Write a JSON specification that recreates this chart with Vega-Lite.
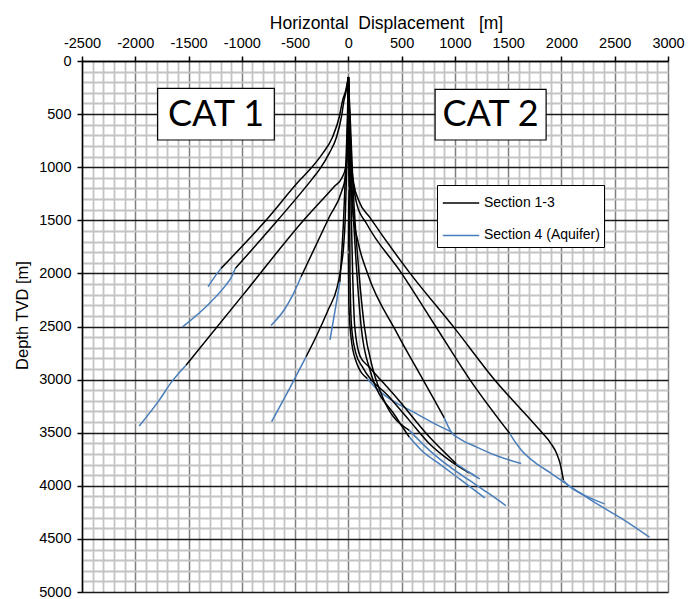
{
  "$schema": "https://vega.github.io/schema/vega-lite/v6.json",
  "width": 586,
  "height": 531,
  "autosize": {"type": "none"},
  "padding": {"left": 82, "top": 61, "right": 20, "bottom": 7},
  "background": "white",
  "config": {"view": {"stroke": null}},
  "datasets": {
    "wells": [
      {"well":"A","section":"Section 1-3","i":0,"x":0,"y":150},
      {"well":"A","section":"Section 1-3","i":1,"x":-25,"y":280},
      {"well":"A","section":"Section 1-3","i":2,"x":-53,"y":367},
      {"well":"A","section":"Section 1-3","i":3,"x":-85,"y":525},
      {"well":"A","section":"Section 1-3","i":4,"x":-147,"y":713},
      {"well":"A","section":"Section 1-3","i":5,"x":-241,"y":870},
      {"well":"A","section":"Section 1-3","i":6,"x":-366,"y":1027},
      {"well":"A","section":"Section 1-3","i":7,"x":-440,"y":1105},
      {"well":"A","section":"Section 1-3","i":8,"x":-773,"y":1500},
      {"well":"A","section":"Section 1-3","i":9,"x":-1195,"y":1953},
      {"well":"A","section":"Section 4 (Aquifer)","i":0,"x":-1195,"y":1953},
      {"well":"A","section":"Section 4 (Aquifer)","i":1,"x":-1260,"y":2040},
      {"well":"A","section":"Section 4 (Aquifer)","i":2,"x":-1317,"y":2126},

      {"well":"B","section":"Section 1-3","i":0,"x":0,"y":150},
      {"well":"B","section":"Section 1-3","i":1,"x":-20,"y":280},
      {"well":"B","section":"Section 1-3","i":2,"x":-40,"y":367},
      {"well":"B","section":"Section 1-3","i":3,"x":-65,"y":525},
      {"well":"B","section":"Section 1-3","i":4,"x":-110,"y":713},
      {"well":"B","section":"Section 1-3","i":5,"x":-180,"y":870},
      {"well":"B","section":"Section 1-3","i":6,"x":-275,"y":1027},
      {"well":"B","section":"Section 1-3","i":7,"x":-335,"y":1105},
      {"well":"B","section":"Section 1-3","i":8,"x":-664,"y":1500},
      {"well":"B","section":"Section 1-3","i":9,"x":-1061,"y":1953},
      {"well":"B","section":"Section 4 (Aquifer)","i":0,"x":-1061,"y":1953},
      {"well":"B","section":"Section 4 (Aquifer)","i":1,"x":-1100,"y":2040},
      {"well":"B","section":"Section 4 (Aquifer)","i":2,"x":-1150,"y":2110},
      {"well":"B","section":"Section 4 (Aquifer)","i":3,"x":-1305,"y":2283},
      {"well":"B","section":"Section 4 (Aquifer)","i":4,"x":-1556,"y":2503},

      {"well":"C","section":"Section 1-3","i":0,"x":0,"y":150},
      {"well":"C","section":"Section 1-3","i":1,"x":-3,"y":500},
      {"well":"C","section":"Section 1-3","i":2,"x":-8,"y":800},
      {"well":"C","section":"Section 1-3","i":3,"x":-25,"y":1000},
      {"well":"C","section":"Section 1-3","i":4,"x":-60,"y":1100},
      {"well":"C","section":"Section 1-3","i":5,"x":-130,"y":1180},
      {"well":"C","section":"Section 1-3","i":6,"x":-420,"y":1500},
      {"well":"C","section":"Section 1-3","i":7,"x":-987,"y":2200},
      {"well":"C","section":"Section 1-3","i":8,"x":-1524,"y":2864},
      {"well":"C","section":"Section 4 (Aquifer)","i":0,"x":-1524,"y":2864},
      {"well":"C","section":"Section 4 (Aquifer)","i":1,"x":-1650,"y":3010},
      {"well":"C","section":"Section 4 (Aquifer)","i":2,"x":-1780,"y":3200},
      {"well":"C","section":"Section 4 (Aquifer)","i":3,"x":-1963,"y":3438},

      {"well":"D","section":"Section 1-3","i":0,"x":0,"y":150},
      {"well":"D","section":"Section 1-3","i":1,"x":-5,"y":500},
      {"well":"D","section":"Section 1-3","i":2,"x":-12,"y":900},
      {"well":"D","section":"Section 1-3","i":3,"x":-30,"y":1100},
      {"well":"D","section":"Section 1-3","i":4,"x":-60,"y":1220},
      {"well":"D","section":"Section 1-3","i":5,"x":-178,"y":1467},
      {"well":"D","section":"Section 1-3","i":6,"x":-444,"y":2032},
      {"well":"D","section":"Section 4 (Aquifer)","i":0,"x":-444,"y":2032},
      {"well":"D","section":"Section 4 (Aquifer)","i":1,"x":-520,"y":2200},
      {"well":"D","section":"Section 4 (Aquifer)","i":2,"x":-600,"y":2340},
      {"well":"D","section":"Section 4 (Aquifer)","i":3,"x":-726,"y":2490},

      {"well":"E","section":"Section 1-3","i":0,"x":0,"y":150},
      {"well":"E","section":"Section 1-3","i":1,"x":-5,"y":500},
      {"well":"E","section":"Section 1-3","i":2,"x":-15,"y":1000},
      {"well":"E","section":"Section 1-3","i":3,"x":-30,"y":1500},
      {"well":"E","section":"Section 1-3","i":4,"x":-45,"y":1750},
      {"well":"E","section":"Section 1-3","i":5,"x":-70,"y":1950},
      {"well":"E","section":"Section 1-3","i":6,"x":-105,"y":2130},
      {"well":"E","section":"Section 1-3","i":7,"x":-190,"y":2345},
      {"well":"E","section":"Section 1-3","i":8,"x":-303,"y":2597},
      {"well":"E","section":"Section 1-3","i":9,"x":-397,"y":2785},
      {"well":"E","section":"Section 4 (Aquifer)","i":0,"x":-397,"y":2785},
      {"well":"E","section":"Section 4 (Aquifer)","i":1,"x":-550,"y":3080},
      {"well":"E","section":"Section 4 (Aquifer)","i":2,"x":-720,"y":3395},

      {"well":"F","section":"Section 1-3","i":0,"x":0,"y":150},
      {"well":"F","section":"Section 1-3","i":1,"x":-8,"y":500},
      {"well":"F","section":"Section 1-3","i":2,"x":-25,"y":1000},
      {"well":"F","section":"Section 1-3","i":3,"x":-45,"y":1500},
      {"well":"F","section":"Section 1-3","i":4,"x":-62,"y":1800},
      {"well":"F","section":"Section 1-3","i":5,"x":-80,"y":2080},
      {"well":"F","section":"Section 4 (Aquifer)","i":0,"x":-80,"y":2080},
      {"well":"F","section":"Section 4 (Aquifer)","i":1,"x":-120,"y":2320},
      {"well":"F","section":"Section 4 (Aquifer)","i":2,"x":-172,"y":2625},

      {"well":"R1","section":"Section 1-3","i":0,"x":0,"y":150},
      {"well":"R1","section":"Section 1-3","i":1,"x":10,"y":500},
      {"well":"R1","section":"Section 1-3","i":2,"x":25,"y":900},
      {"well":"R1","section":"Section 1-3","i":3,"x":50,"y":1150},
      {"well":"R1","section":"Section 1-3","i":4,"x":100,"y":1320},
      {"well":"R1","section":"Section 1-3","i":5,"x":200,"y":1470},
      {"well":"R1","section":"Section 1-3","i":6,"x":580,"y":2000},
      {"well":"R1","section":"Section 1-3","i":7,"x":1000,"y":2520},
      {"well":"R1","section":"Section 1-3","i":8,"x":1370,"y":3000},
      {"well":"R1","section":"Section 1-3","i":9,"x":1800,"y":3480},
      {"well":"R1","section":"Section 1-3","i":10,"x":1900,"y":3600},
      {"well":"R1","section":"Section 1-3","i":11,"x":1956,"y":3698},
      {"well":"R1","section":"Section 1-3","i":12,"x":1990,"y":3800},
      {"well":"R1","section":"Section 1-3","i":13,"x":2019,"y":3950},
      {"well":"R1","section":"Section 4 (Aquifer)","i":0,"x":2019,"y":3950},
      {"well":"R1","section":"Section 4 (Aquifer)","i":1,"x":2066,"y":4000},
      {"well":"R1","section":"Section 4 (Aquifer)","i":2,"x":2200,"y":4080},
      {"well":"R1","section":"Section 4 (Aquifer)","i":3,"x":2404,"y":4170},

      {"well":"R2","section":"Section 1-3","i":0,"x":0,"y":150},
      {"well":"R2","section":"Section 1-3","i":1,"x":10,"y":500},
      {"well":"R2","section":"Section 1-3","i":2,"x":20,"y":900},
      {"well":"R2","section":"Section 1-3","i":3,"x":45,"y":1150},
      {"well":"R2","section":"Section 1-3","i":4,"x":80,"y":1350},
      {"well":"R2","section":"Section 1-3","i":5,"x":170,"y":1530},
      {"well":"R2","section":"Section 1-3","i":6,"x":500,"y":2000},
      {"well":"R2","section":"Section 1-3","i":7,"x":820,"y":2500},
      {"well":"R2","section":"Section 1-3","i":8,"x":1140,"y":3000},
      {"well":"R2","section":"Section 1-3","i":9,"x":1516,"y":3509},
      {"well":"R2","section":"Section 4 (Aquifer)","i":0,"x":1516,"y":3509},
      {"well":"R2","section":"Section 4 (Aquifer)","i":1,"x":1560,"y":3580},
      {"well":"R2","section":"Section 4 (Aquifer)","i":2,"x":1626,"y":3667},
      {"well":"R2","section":"Section 4 (Aquifer)","i":3,"x":1750,"y":3780},
      {"well":"R2","section":"Section 4 (Aquifer)","i":4,"x":1900,"y":3880},
      {"well":"R2","section":"Section 4 (Aquifer)","i":5,"x":2066,"y":3997},
      {"well":"R2","section":"Section 4 (Aquifer)","i":6,"x":2300,"y":4150},
      {"well":"R2","section":"Section 4 (Aquifer)","i":7,"x":2600,"y":4330},
      {"well":"R2","section":"Section 4 (Aquifer)","i":8,"x":2826,"y":4484},

      {"well":"R3","section":"Section 1-3","i":0,"x":0,"y":150},
      {"well":"R3","section":"Section 1-3","i":1,"x":8,"y":600},
      {"well":"R3","section":"Section 1-3","i":2,"x":20,"y":1000},
      {"well":"R3","section":"Section 1-3","i":3,"x":40,"y":1400},
      {"well":"R3","section":"Section 1-3","i":4,"x":90,"y":1700},
      {"well":"R3","section":"Section 1-3","i":5,"x":180,"y":2000},
      {"well":"R3","section":"Section 1-3","i":6,"x":450,"y":2550},
      {"well":"R3","section":"Section 1-3","i":7,"x":700,"y":3000},
      {"well":"R3","section":"Section 1-3","i":8,"x":900,"y":3360},
      {"well":"R3","section":"Section 4 (Aquifer)","i":0,"x":900,"y":3360},
      {"well":"R3","section":"Section 4 (Aquifer)","i":1,"x":964,"y":3491},
      {"well":"R3","section":"Section 4 (Aquifer)","i":2,"x":1050,"y":3560},
      {"well":"R3","section":"Section 4 (Aquifer)","i":3,"x":1200,"y":3633},
      {"well":"R3","section":"Section 4 (Aquifer)","i":4,"x":1400,"y":3720},
      {"well":"R3","section":"Section 4 (Aquifer)","i":5,"x":1621,"y":3790},

      {"well":"R4","section":"Section 1-3","i":0,"x":0,"y":150},
      {"well":"R4","section":"Section 1-3","i":1,"x":3,"y":600},
      {"well":"R4","section":"Section 1-3","i":2,"x":5,"y":1200},
      {"well":"R4","section":"Section 1-3","i":3,"x":0,"y":1800},
      {"well":"R4","section":"Section 1-3","i":4,"x":5,"y":2300},
      {"well":"R4","section":"Section 1-3","i":5,"x":25,"y":2600},
      {"well":"R4","section":"Section 1-3","i":6,"x":69,"y":2818},
      {"well":"R4","section":"Section 1-3","i":7,"x":179,"y":2991},
      {"well":"R4","section":"Section 4 (Aquifer)","i":0,"x":179,"y":2991},
      {"well":"R4","section":"Section 4 (Aquifer)","i":1,"x":260,"y":3080},
      {"well":"R4","section":"Section 4 (Aquifer)","i":2,"x":384,"y":3179},
      {"well":"R4","section":"Section 4 (Aquifer)","i":3,"x":600,"y":3300},
      {"well":"R4","section":"Section 4 (Aquifer)","i":4,"x":800,"y":3410},
      {"well":"R4","section":"Section 4 (Aquifer)","i":5,"x":964,"y":3491},

      {"well":"C1","section":"Section 1-3","i":0,"x":0,"y":150},
      {"well":"C1","section":"Section 1-3","i":1,"x":8,"y":600},
      {"well":"C1","section":"Section 1-3","i":2,"x":12,"y":1200},
      {"well":"C1","section":"Section 1-3","i":3,"x":15,"y":2000},
      {"well":"C1","section":"Section 1-3","i":4,"x":30,"y":2500},
      {"well":"C1","section":"Section 1-3","i":5,"x":70,"y":2750},
      {"well":"C1","section":"Section 1-3","i":6,"x":132,"y":2881},
      {"well":"C1","section":"Section 1-3","i":7,"x":384,"y":3164},
      {"well":"C1","section":"Section 1-3","i":8,"x":572,"y":3384},
      {"well":"C1","section":"Section 1-3","i":9,"x":761,"y":3604},
      {"well":"C1","section":"Section 1-3","i":10,"x":950,"y":3761},
      {"well":"C1","section":"Section 1-3","i":11,"x":1138,"y":3881},

      {"well":"C2","section":"Section 1-3","i":0,"x":0,"y":150},
      {"well":"C2","section":"Section 1-3","i":1,"x":12,"y":600},
      {"well":"C2","section":"Section 1-3","i":2,"x":22,"y":1200},
      {"well":"C2","section":"Section 1-3","i":3,"x":40,"y":2000},
      {"well":"C2","section":"Section 1-3","i":4,"x":60,"y":2500},
      {"well":"C2","section":"Section 1-3","i":5,"x":110,"y":2780},
      {"well":"C2","section":"Section 1-3","i":6,"x":195,"y":2881},
      {"well":"C2","section":"Section 1-3","i":7,"x":447,"y":3164},
      {"well":"C2","section":"Section 1-3","i":8,"x":761,"y":3541},
      {"well":"C2","section":"Section 1-3","i":9,"x":1013,"y":3793},
      {"well":"C2","section":"Section 4 (Aquifer)","i":0,"x":1013,"y":3793},
      {"well":"C2","section":"Section 4 (Aquifer)","i":1,"x":1130,"y":3870},
      {"well":"C2","section":"Section 4 (Aquifer)","i":2,"x":1233,"y":3934},

      {"well":"C3","section":"Section 1-3","i":0,"x":0,"y":150},
      {"well":"C3","section":"Section 1-3","i":1,"x":15,"y":600},
      {"well":"C3","section":"Section 1-3","i":2,"x":35,"y":1200},
      {"well":"C3","section":"Section 1-3","i":3,"x":80,"y":2000},
      {"well":"C3","section":"Section 1-3","i":4,"x":120,"y":2500},
      {"well":"C3","section":"Section 1-3","i":5,"x":200,"y":2900},
      {"well":"C3","section":"Section 1-3","i":6,"x":447,"y":3352},
      {"well":"C3","section":"Section 1-3","i":7,"x":572,"y":3541},
      {"well":"C3","section":"Section 4 (Aquifer)","i":0,"x":572,"y":3541},
      {"well":"C3","section":"Section 4 (Aquifer)","i":1,"x":700,"y":3680},
      {"well":"C3","section":"Section 4 (Aquifer)","i":2,"x":855,"y":3793},
      {"well":"C3","section":"Section 4 (Aquifer)","i":3,"x":1050,"y":3940},
      {"well":"C3","section":"Section 4 (Aquifer)","i":4,"x":1280,"y":4113},

      {"well":"C4","section":"Section 1-3","i":0,"x":0,"y":150},
      {"well":"C4","section":"Section 1-3","i":1,"x":20,"y":600},
      {"well":"C4","section":"Section 1-3","i":2,"x":45,"y":1200},
      {"well":"C4","section":"Section 1-3","i":3,"x":100,"y":2000},
      {"well":"C4","section":"Section 1-3","i":4,"x":150,"y":2500},
      {"well":"C4","section":"Section 1-3","i":5,"x":230,"y":2900},
      {"well":"C4","section":"Section 1-3","i":6,"x":321,"y":3164},
      {"well":"C4","section":"Section 1-3","i":7,"x":572,"y":3478},
      {"well":"C4","section":"Section 4 (Aquifer)","i":0,"x":572,"y":3478},
      {"well":"C4","section":"Section 4 (Aquifer)","i":1,"x":761,"y":3666},
      {"well":"C4","section":"Section 4 (Aquifer)","i":2,"x":950,"y":3820},
      {"well":"C4","section":"Section 4 (Aquifer)","i":3,"x":1138,"y":3950},
      {"well":"C4","section":"Section 4 (Aquifer)","i":4,"x":1300,"y":4060},
      {"well":"C4","section":"Section 4 (Aquifer)","i":5,"x":1478,"y":4186}
    ],
    "boxes": [
      {"label":"CAT 1","x":-1790,"x2":-695,"y":257,"y2":744},
      {"label":"CAT 2","x":814,"x2":1856,"y":267,"y2":744}
    ],
    "labels": [
      {"label":"CAT 1","x":-1242,"y":505},
      {"label":"CAT 2","x":1335,"y":505}
    ]
  },
  "encoding": {
    "x": {
      "field": "x", "type": "quantitative",
      "scale": {"domain": [-2500, 3000], "nice": false, "zero": false},
      "axis": {
        "orient": "top",
        "values": [-2500,-2400,-2300,-2200,-2100,-2000,-1900,-1800,-1700,-1600,-1500,-1400,-1300,-1200,-1100,-1000,-900,-800,-700,-600,-500,-400,-300,-200,-100,0,100,200,300,400,500,600,700,800,900,1000,1100,1200,1300,1400,1500,1600,1700,1800,1900,2000,2100,2200,2300,2400,2500,2600,2700,2800,2900,3000],
        "labelExpr": "datum.value % 500 === 0 ? '' + datum.value : ''",
        "labelOverlap": false,
        "labelFlush": false,
        "labelFont": "Liberation Sans",
        "labelFontSize": 14.5,
        "labelColor": "#000000",
        "labelPadding": 6,
        "grid": true,
        "gridColor": {"condition": {"test": "datum.value % 500 === 0", "value": "#7f7f7f"}, "value": "#c4c4c4"},
        "gridWidth": {"condition": {"test": "datum.value % 500 === 0", "value": 1.5}, "value": 1.8},
        "ticks": true,
        "tickSize": 5,
        "tickWidth": 1.5,
        "tickColor": {"condition": {"test": "datum.value % 500 === 0", "value": "#000000"}, "value": "transparent"},
        "domainColor": "#000000",
        "domainWidth": 1.5,
        "title": "Horizontal\u00a0 Displacement\u00a0\u00a0 [m]",
        "titleFont": "Liberation Sans",
        "titleFontSize": 17.5,
        "titleFontWeight": "normal",
        "titleColor": "#000000",
        "titleX": 304,
        "titleY": -33,
        "titleAlign": "center",
        "titleBaseline": "alphabetic"
      }
    },
    "y": {
      "field": "y", "type": "quantitative",
      "scale": {"domain": [0, 5000], "reverse": true, "nice": false, "zero": false},
      "axis": {
        "orient": "left",
        "values": [0,100,200,300,400,500,600,700,800,900,1000,1100,1200,1300,1400,1500,1600,1700,1800,1900,2000,2100,2200,2300,2400,2500,2600,2700,2800,2900,3000,3100,3200,3300,3400,3500,3600,3700,3800,3900,4000,4100,4200,4300,4400,4500,4600,4700,4800,4900,5000],
        "labelExpr": "datum.value % 500 === 0 ? '' + datum.value : ''",
        "labelOverlap": false,
        "labelFlush": false,
        "labelFont": "Liberation Sans",
        "labelFontSize": 14.5,
        "labelColor": "#000000",
        "labelPadding": 6,
        "grid": true,
        "gridColor": {"condition": {"test": "datum.value % 500 === 0", "value": "#1a1a1a"}, "value": "#c4c4c4"},
        "gridWidth": {"condition": {"test": "datum.value % 500 === 0", "value": 1.6}, "value": 1.8},
        "ticks": true,
        "tickSize": 5,
        "tickWidth": 1.5,
        "tickColor": {"condition": {"test": "datum.value % 500 === 0", "value": "#000000"}, "value": "transparent"},
        "domainColor": "#000000",
        "domainWidth": 1.5,
        "title": "Depth TVD [m]",
        "titleFont": "Liberation Sans",
        "titleFontSize": 16.5,
        "titleFontWeight": "normal",
        "titleColor": "#000000",
        "titleX": -60,
        "titleY": 254,
        "titleAlign": "center",
        "titleBaseline": "middle",
        "titleAngle": -90
      }
    }
  },
  "layer": [
    {
      "data": {"name": "wells"},
      "mark": {"type": "line", "strokeWidth": 1.5, "interpolate": "monotone"},
      "encoding": {
        "color": {
          "field": "section", "type": "nominal",
          "scale": {"domain": ["Section 1-3", "Section 4 (Aquifer)"], "range": ["#000000", "#4a7ebb"]},
          "legend": {
            "title": null,
            "orient": "none",
            "legendX": 355,
            "legendY": 124,
            "fillColor": "white",
            "strokeColor": "#000000",
            "padding": 4,
            "symbolType": "M-1.4,0H1.4",
            "symbolSize": 676,
            "symbolOffset": 6,
            "symbolStrokeWidth": 1.5,
            "rowPadding": 11.4,
            "labelFont": "Liberation Sans",
            "labelFontSize": 14,
            "labelColor": "#000000",
            "labelOffset": 9,
            "labelLimit": 300
          }
        },
        "detail": [{"field": "well", "type": "nominal"}],
        "order": {"field": "i", "type": "quantitative"}
      }
    },
    {
      "data": {"name": "boxes"},
      "mark": {"type": "rect", "fill": "white", "stroke": "#000000", "strokeWidth": 1.2},
      "encoding": {
        "x2": {"field": "x2"},
        "y2": {"field": "y2"}
      }
    },
    {
      "data": {"name": "labels"},
      "mark": {"type": "text", "font": "Lato", "fontSize": 36, "color": "#000000", "align": "center", "baseline": "middle"},
      "encoding": {
        "text": {"field": "label"}
      }
    }
  ]
}
